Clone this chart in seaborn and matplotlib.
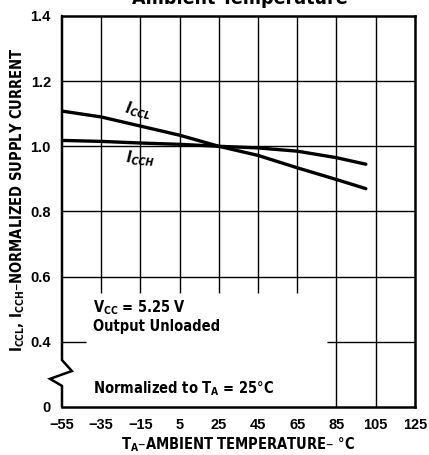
import numpy as np
import pandas as pd
import matplotlib
matplotlib.use("Agg")
import matplotlib.pyplot as plt
import seaborn as sns

sns.set_theme(style="white")
plt.rcParams["font.family"] = ["DejaVu Sans"]
plt.rcParams["font.stretch"] = "condensed"
plt.rcParams["text.color"] = "black"
plt.rcParams["axes.labelcolor"] = "black"
plt.rcParams["xtick.color"] = "black"
plt.rcParams["ytick.color"] = "black"

# ── data ─────────────────────────────────────────────────────────────────────
temps = [-55, -35, -15, 5, 25, 45, 65, 85, 100]
iccl = [1.108, 1.090, 1.062, 1.034, 1.000, 0.972, 0.934, 0.898, 0.870]
icch = [1.018, 1.015, 1.010, 1.006, 1.000, 0.995, 0.985, 0.965, 0.945]
x_ticks = [-55, -35, -15, 5, 25, 45, 65, 85, 105, 125]
y_ticks = [0.2, 0.4, 0.6, 0.8, 1.0, 1.2, 1.4]
y_labels = ["0", "0.4", "0.6", "0.8", "1.0", "1.2", "1.4"]

df = pd.DataFrame({
    "temp": temps * 2,
    "current": iccl + icch,
    "series": ["ICCL"] * len(temps) + ["ICCH"] * len(temps),
})

fig = plt.figure(figsize=(4.29, 4.55), dpi=100)
ax = fig.add_axes([0.1445, 0.1055, 0.8225, 0.8595])

# grid (partial, as in the datasheet)
for t in x_ticks[1:7]:
    ax.vlines(t, 0.55, 1.4, color="black", lw=1.0, zorder=1)
for t in x_ticks[7:9]:
    ax.vlines(t, 0.2, 1.4, color="black", lw=1.0, zorder=1)
for v in [0.6, 0.8, 1.0, 1.2]:
    ax.hlines(v, -55, 125, color="black", lw=1.0, zorder=1)
ax.hlines(0.4, -55, -43, color="black", lw=1.0, zorder=1)
ax.hlines(0.4, 80, 125, color="black", lw=1.0, zorder=1)

sns.lineplot(data=df, x="temp", y="current", hue="series",
             palette={"ICCL": "black", "ICCH": "black"},
             lw=2.4, legend=False, ax=ax, zorder=3)

ax.set_xlim(-55, 125)
ax.set_ylim(0.2, 1.4)
ax.set_xticks(x_ticks)
ax.set_xticklabels(["\u2212" + str(-t) if t < 0 else str(t) for t in x_ticks],
                   fontsize=10.5, fontweight="bold", family=["Liberation Sans", "DejaVu Sans"],
                   stretch="normal")
ax.set_yticks(y_ticks)
ax.set_yticklabels(y_labels, fontsize=10.5, fontweight="bold",
                   family=["Liberation Sans", "DejaVu Sans"], stretch="normal")
ax.tick_params(axis="both", direction="in", length=4, width=1.2, color="black", pad=8)
ax.tick_params(axis="x", top=False)

for s in ["top", "right", "bottom"]:
    ax.spines[s].set_linewidth(1.8)
    ax.spines[s].set_color("black")
ax.spines["left"].set_visible(False)

# left spine with a break (zigzag) between 0 and 0.4
zx = [0, 0, 0.028, -0.034, 0.0, 0.0]
zy = [1.0, 0.120, 0.092, 0.072, 0.054, 0.0]
ax.plot(zx, zy, transform=ax.transAxes, color="black", lw=1.8, clip_on=False,
        solid_joinstyle="miter", zorder=4)

ax.set_xlabel("T$_\\mathregular{A}$\u2013AMBIENT TEMPERATURE\u2013 \u00b0C", fontsize=10.5,
              fontweight="bold", labelpad=2)
ax.set_ylabel("I$_\\mathregular{CCL}$, I$_\\mathregular{CCH}$\u2013NORMALIZED SUPPLY CURRENT",
              fontsize=10.5, fontweight="bold")
ax.yaxis.set_label_coords(-0.1, 0.53)

ax.text(-16, 1.108, "I$_\\mathregular{CCL}$", fontsize=11, rotation=-12, style="italic",
        fontweight="bold", ha="center", va="center")
ax.text(-15, 0.962, "I$_\\mathregular{CCH}$", fontsize=11, rotation=-4, style="italic",
        fontweight="bold", ha="center", va="center")

ax.text(-39, 0.505, "V$_\\mathregular{CC}$ = 5.25 V", fontsize=10.5, fontweight="bold", va="center")
ax.text(-39, 0.447, "Output Unloaded", fontsize=10.5, fontweight="bold", va="center")
ax.text(-39, 0.256, "Normalized to T$_\\mathregular{A}$ = 25\u00b0C", fontsize=10.5,
        fontweight="bold", va="center")

fig.text(0.56, 1.003, "Ambient Temperature", fontsize=14, fontweight="bold",
         ha="center", va="center")

fig.savefig("out.png", dpi=100)
